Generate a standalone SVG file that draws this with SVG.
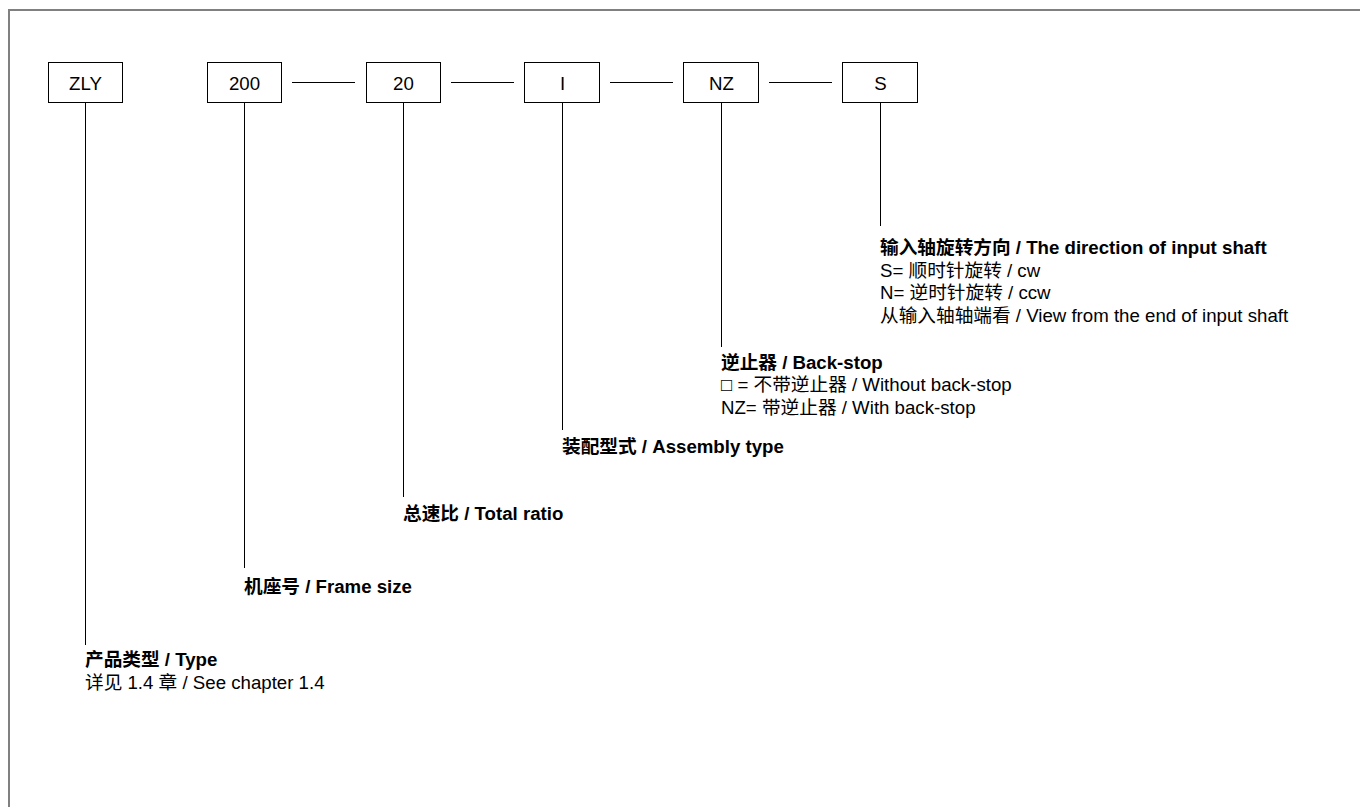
<svg xmlns="http://www.w3.org/2000/svg" width="1360" height="807" viewBox="0 0 1360 807">
<style>
.frame{fill:none;stroke:#808080;stroke-width:2}
.box rect{fill:#fff;stroke:#000;stroke-width:1}
.box text{font-family:"Liberation Sans","Noto Sans CJK SC",sans-serif;font-size:18.67px;fill:#000;text-anchor:middle}
.conn line{stroke:#000;stroke-width:1}
.lbl{font-family:"Liberation Sans","Noto Sans CJK SC",sans-serif;font-size:18.67px;fill:#000}
.b{font-weight:bold}
</style>
<rect width="1360" height="807" fill="#fff"/>
<path class="frame" d="M9 807 V10 H1360"/>
<g id="conn" class="conn">
<line x1="292" y1="82.5" x2="355" y2="82.5"/>
<line x1="451" y1="82.5" x2="514" y2="82.5"/>
<line x1="610" y1="82.5" x2="673" y2="82.5"/>
<line x1="769" y1="82.5" x2="832" y2="82.5"/>
<line x1="85.5" y1="102" x2="85.5" y2="645"/>
<line x1="244.5" y1="102" x2="244.5" y2="568"/>
<line x1="403.5" y1="102" x2="403.5" y2="497"/>
<line x1="562.5" y1="102" x2="562.5" y2="430"/>
<line x1="721.5" y1="102" x2="721.5" y2="347"/>
<line x1="880.5" y1="102" x2="880.5" y2="226"/>
</g>
<g id="n-zly" class="box"><rect x="48.5" y="62.5" width="74" height="40"/><text x="85.5" y="89.5">ZLY</text></g>
<g id="n-200" class="box"><rect x="207.5" y="62.5" width="74" height="40"/><text x="244.5" y="89.5">200</text></g>
<g id="n-20" class="box"><rect x="366.5" y="62.5" width="74" height="40"/><text x="403.5" y="89.5">20</text></g>
<g id="n-i" class="box"><rect x="524.5" y="62.5" width="75" height="40"/><text x="562.5" y="89.5">I</text></g>
<g id="n-nz" class="box"><rect x="683.5" y="62.5" width="75" height="40"/><text x="721.5" y="89.5">NZ</text></g>
<g id="n-s" class="box"><rect x="842.5" y="62.5" width="75" height="40"/><text x="880.5" y="89.5">S</text></g>
<g id="l-s" class="lbl">
<text x="880" y="254" class="b">输入轴旋转方向 / The direction of input shaft</text>
<text x="880" y="277">S= 顺时针旋转 / cw</text>
<text x="880" y="299">N= 逆时针旋转 / ccw</text>
<text x="880" y="322">从输入轴轴端看 / View from the end of input shaft</text>
</g>
<g id="l-nz" class="lbl">
<text x="721" y="369" class="b">逆止器 / Back-stop</text>
<text x="721" y="391">□ = 不带逆止器 / Without back-stop</text>
<text x="721" y="414">NZ= 带逆止器 / With back-stop</text>
</g>
<g id="l-i" class="lbl"><text x="562" y="453" class="b">装配型式 / Assembly type</text></g>
<g id="l-20" class="lbl"><text x="403" y="520" class="b">总速比 / Total ratio</text></g>
<g id="l-200" class="lbl"><text x="244" y="593" class="b">机座号 / Frame size</text></g>
<g id="l-zly" class="lbl">
<text x="85" y="666" class="b">产品类型 / Type</text>
<text x="85" y="689">详见 1.4 章 / See chapter 1.4</text>
</g>
</svg>
